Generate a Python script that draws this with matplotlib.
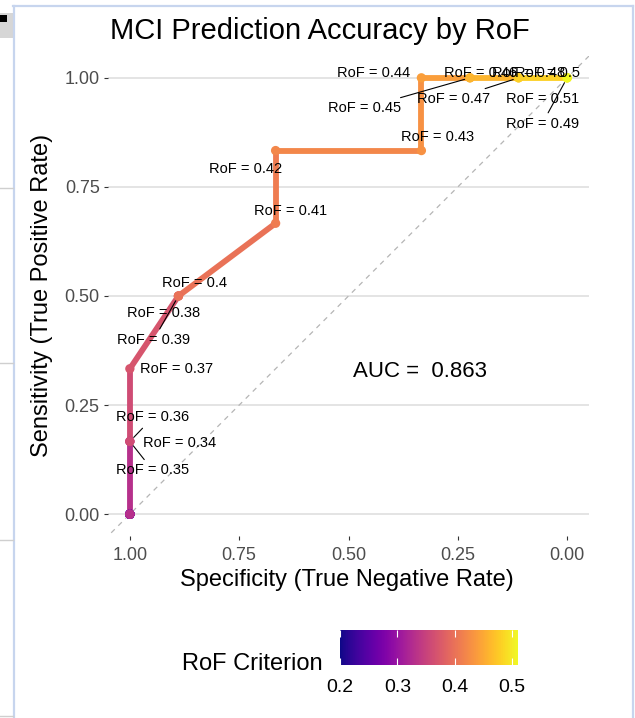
import matplotlib
matplotlib.use('Agg')
import matplotlib.pyplot as plt
from matplotlib.collections import LineCollection
from matplotlib.lines import Line2D
from matplotlib.patches import Rectangle
import numpy as np

plt.rcParams['font.family'] = ['Liberation Sans', 'DejaVu Sans']

# RoF criterion values and the ROC coordinates they give
rof = [0.20, 0.21, 0.22, 0.23, 0.24, 0.25, 0.26, 0.27, 0.28, 0.29, 0.30,
       0.31, 0.32, 0.33, 0.34, 0.35, 0.36, 0.37, 0.38, 0.39, 0.40, 0.41,
       0.42, 0.43, 0.44, 0.45, 0.46, 0.47, 0.48, 0.49, 0.50, 0.51]
specificity = [1.0, 1.0, 1.0, 1.0, 1.0, 1.0, 1.0, 1.0, 1.0, 1.0, 1.0,
               1.0, 1.0, 1.0, 1.0, 1.0, 1.0, 1.0, 0.8889, 0.8889, 0.8889, 0.6667,
               0.6667, 0.3333, 0.3333, 0.2222, 0.2222, 0.1111, 0.1111, 0.0, 0.0, 0.0]
sensitivity = [0.0, 0.0, 0.0, 0.0, 0.0, 0.0, 0.0, 0.0, 0.0, 0.0, 0.0,
               0.0, 0.0, 0.0, 0.1667, 0.1667, 0.1667, 0.3333, 0.5, 0.5, 0.5, 0.6667,
               0.8333, 0.8333, 1.0, 1.0, 1.0, 1.0, 1.0, 1.0, 1.0, 1.0]
auc_value = 0.863
axis_ticks = [1.0, 0.75, 0.5, 0.25, 0.0]
cbar_ticks = [0.2, 0.3, 0.4, 0.5]

# where the repelled labels ended up (pixel offsets: right, down, has leader)
label_pos = {0.34: (50, 2, False), 0.35: (23, 29, True), 0.36: (23, -24, True),
             0.37: (47, 0, False), 0.38: (-15, 17, False), 0.39: (-25, 44, True),
             0.40: (16, -13, False), 0.41: (15, -12, False), 0.42: (-30, 18, False),
             0.43: (16, -14, False), 0.44: (-48, -5, False), 0.45: (-105, 30, True),
             0.46: (11, -5, False), 0.47: (-65, 21, True), 0.48: (10, -5, False),
             0.49: (-25, 46, True), 0.50: (-20, -5, False), 0.51: (-25, 21, False)}

W, H = 635, 718
fig = plt.figure(figsize=(W / 100, H / 100), dpi=100)
ax = fig.add_axes([108 / W, 1 - 536 / H, 481 / W, 480 / H])

cmap = plt.get_cmap('plasma')
norm = plt.Normalize(min(rof), max(rof))

# diagonal reference
ax.axline((1, 0), (0, 1), color='#b5b5b5', lw=0.9, ls=(0, (4, 4)), zorder=1)

# path coloured by start of each segment
pts = np.column_stack([specificity, sensitivity])
segs = np.stack([pts[:-1], pts[1:]], axis=1)
lc = LineCollection(segs, cmap=cmap, norm=norm, linewidths=4.2, capstyle='butt',
                    joinstyle='round', zorder=2)
lc.set_array(np.array(rof[:-1]))
ax.add_collection(lc)

sc = ax.scatter(specificity, sensitivity, c=rof, cmap=cmap, norm=norm, s=45,
                edgecolors='none', zorder=3)

for r, s, t in zip(rof, specificity, sensitivity):
    key = round(r, 2)
    if key not in label_pos:
        continue
    dx, dy, leader = label_pos[key]
    props = None
    if leader:
        props = dict(arrowstyle='-', color='black', lw=0.8, shrinkA=1, shrinkB=4)
    ax.annotate(f"RoF = {key:g}", xy=(s, t), xytext=(dx, -dy),
                textcoords='offset pixels', ha='center', va='center',
                fontsize=10.5, color='black', arrowprops=props, zorder=4)

ax.text(0.336, 0.326, f"AUC =  {auc_value}", ha='center', va='center',
        fontsize=16, color='black')

ax.set_xlim(1.05, -0.05)
ax.set_ylim(-0.05, 1.05)
ax.set_xticks(axis_ticks)
ax.set_yticks(axis_ticks)
ax.set_xticklabels([f"{v:.2f}" for v in axis_ticks])
ax.set_yticklabels([f"{v:.2f}" for v in axis_ticks])
ax.tick_params(labelsize=13, labelcolor='#4d4d4d', color='#333333',
               length=3, width=0.8)
ax.tick_params(axis='x', pad=5)
ax.tick_params(axis='y', pad=3)
ax.yaxis.grid(True, color='#dcdcdc', lw=1.1)
ax.xaxis.grid(False)
ax.set_axisbelow(True)
for sp in ax.spines.values():
    sp.set_visible(False)

fig.text(320 / W, 1 - 31 / H, "MCI Prediction Accuracy by RoF", ha='center',
         va='center', fontsize=21)
fig.text(347 / W, 1 - 580 / H, "Specificity (True Negative Rate)", ha='center',
         va='center', fontsize=17)
fig.text(42 / W, 1 - 295 / H, "Sensitivity (True Positive Rate)", ha='center',
         va='center', fontsize=17, rotation=90)

# colour bar legend
cax = fig.add_axes([340 / W, 1 - 665 / H, 178 / W, 35 / H])
cb = fig.colorbar(sc, cax=cax, orientation='horizontal', ticks=cbar_ticks)
cb.outline.set_visible(False)
cax.tick_params(direction='in', color='white', length=5, width=0.8,
                labelsize=14, pad=10, top=True)
cb.set_ticklabels([f"{v:g}" for v in cbar_ticks])
fig.text(323 / W, 1 - 664 / H, "RoF Criterion", ha='right', va='center',
         fontsize=17)

# screenshot frame around the plot
blue = '#c7d5ee'
fig.add_artist(Line2D([14 / W, 14 / W], [0, 1 - 6 / H], color=blue, lw=1.6))
fig.add_artist(Line2D([13 / W, 633 / W], [1 - 6 / H, 1 - 6 / H], color=blue, lw=1.6))
fig.add_artist(Line2D([633 / W, 633 / W], [0, 1 - 6 / H], color=blue, lw=1.6))
fig.add_artist(Rectangle((0, 1 - 38 / H), 13 / W, 25 / H, color='#d6d6d6', lw=0))
fig.add_artist(Rectangle((0, 1 - 22 / H), 7 / W, 7 / H, color='black', lw=0))
for yy in [188, 363, 540, 716]:
    fig.add_artist(Line2D([0, 13 / W], [1 - yy / H, 1 - yy / H], color='#cfcfcf', lw=1))

fig.savefig('out.png', dpi=100)
